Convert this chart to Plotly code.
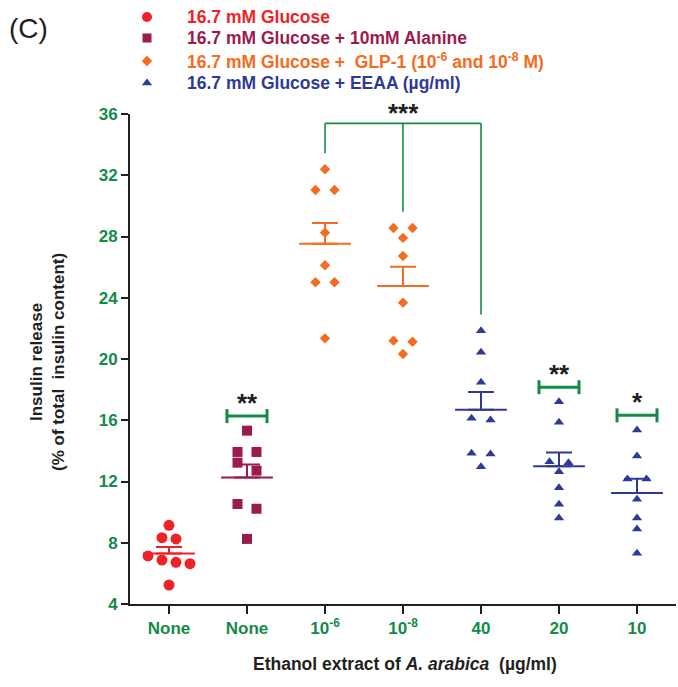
import numpy as np
import plotly.graph_objects as go

# ---------------- data ----------------
tick_labels = ["None", "None", "10<sup>-6</sup>", "10<sup>-8</sup>", "40", "20", "10"]

glucose = [9.14, 8.33, 8.25, 7.14, 6.87, 6.72, 6.63, 5.24]
glucose_alanine = [15.32, 13.93, 13.93, 13.23, 12.71, 10.53, 10.22, 8.25]
glp1_1e6 = [32.39, 31.04, 31.04, 28.25, 26.12, 25.01, 25.01, 21.35]
glp1_1e8 = [28.56, 28.56, 27.91, 26.73, 23.68, 21.20, 21.13, 20.33]
eeaa_40 = [21.85, 20.44, 18.48, 16.13, 16.02, 13.84, 13.80, 12.97]
eeaa_20 = [17.21, 15.87, 13.29, 13.23, 12.64, 11.60, 10.51, 9.62]
eeaa_10 = [15.37, 13.67, 12.16, 12.16, 10.84, 9.62, 8.90, 7.31]

series_names = [
    "16.7 mM Glucose",
    "16.7 mM Glucose + 10mM Alanine",
    "16.7 mM Glucose + \u00a0GLP-1 (10<sup>-6</sup> and 10<sup>-8</sup> M)",
    "16.7 mM Glucose + EEAA (\u00b5g/ml)",
]
group_values = [glucose, glucose_alanine, glp1_1e6, glp1_1e8, eeaa_40, eeaa_20, eeaa_10]
group_series = [0, 1, 2, 2, 3, 3, 3]

single_sig = {1: "**", 5: "**", 6: "*"}
bracket_sig = "***"

# ---------------- style ----------------
colors = ["#ED2327", "#9B1B4F", "#F36C21", "#2E3A94"]
symbols = ["circle", "square", "diamond", "triangle-up"]
marker_sizes = [11, 10, 8, 9]
legend_marker_sizes = [10, 9, 8, 9]
swarm_step_px = [14, 19, 19, 19]
GREEN = "#148A48"
DARK = "#231F20"
FONT = "Liberation Sans, Arial, Helvetica, sans-serif"

W, H = 678, 687
PL, PR, PT, PB = 130, 676, 114, 604   # main plot frame in pixels
TOP = 0                                # plot area reaches the top (legend overlay)
X_RANGE = [-0.5, 6.5]
Y_RANGE = [4, 36]
PX_X = (PR - PL) / (X_RANGE[1] - X_RANGE[0])
PX_Y = (PB - PT) / (Y_RANGE[1] - Y_RANGE[0])


def paper_x(px):
    return (px - PL) / (PR - PL)


def paper_y(py):
    return (PB - py) / (PB - TOP)


def swarm_offsets(values, step_px, thresh=0.6):
    """Rows of near-equal values are spread horizontally, centred."""
    n = len(values)
    order = sorted(range(n), key=lambda i: -values[i])
    rows, cur = [], []
    for i in order:
        if cur and values[cur[0]] - values[i] <= thresh:
            cur.append(i)
        else:
            if cur:
                rows.append(cur)
            cur = [i]
    rows.append(cur)
    off = [0.0] * n
    for row in rows:
        k = len(row)
        for j, i in enumerate(row):
            off[i] = (j - (k - 1) / 2) * step_px / PX_X
    return off


fig = go.Figure()

for gi, vals in enumerate(group_values):
    s = group_series[gi]
    offs = swarm_offsets(vals, swarm_step_px[s])
    fig.add_trace(go.Scatter(
        x=[gi + o for o in offs], y=vals, mode="markers",
        marker=dict(symbol=symbols[s], size=marker_sizes[s], color=colors[s],
                    line=dict(width=0)),
        showlegend=False, hoverinfo="y"))

for gi, vals in enumerate(group_values):
    s = group_series[gi]
    arr = np.array(vals)
    mean = arr.mean()
    sem = arr.std(ddof=1) / np.sqrt(len(arr))
    fig.add_trace(go.Scatter(
        x=[gi], y=[mean], mode="markers",
        marker=dict(symbol="line-ew", size=37, color=colors[s],
                    line=dict(width=2, color=colors[s])),
        error_y=dict(type="data", symmetric=False, array=[sem], arrayminus=[0],
                     color=colors[s], thickness=2, width=13),
        showlegend=False, hoverinfo="y"))

shapes = []
annotations = []

half_w = 20 / PX_X
cap_h = 7 / PX_Y
for gi, stars in single_sig.items():
    yb = max(group_values[gi]) + 0.95
    shapes.append(dict(type="line", xref="x", yref="y", x0=gi - half_w, x1=gi + half_w,
                       y0=yb, y1=yb, line=dict(color=GREEN, width=3)))
    for xe in (gi - half_w, gi + half_w):
        shapes.append(dict(type="line", xref="x", yref="y", x0=xe, x1=xe,
                           y0=yb - cap_h, y1=yb + cap_h, line=dict(color=GREEN, width=3)))
    annotations.append(dict(x=gi, y=yb, xref="x", yref="y", text=f"<b>{stars}</b>",
                            showarrow=False, yanchor="bottom", yshift=-4,
                            font=dict(family=FONT, size=26, color=DARK)))

legs = [2, 3, 4]
top = max(group_values[2]) + 3.0
for gi in legs:
    shapes.append(dict(type="line", xref="x", yref="y", x0=gi, x1=gi,
                       y0=max(group_values[gi]) + 1.05, y1=top,
                       line=dict(color=GREEN, width=1.6)))
shapes.append(dict(type="line", xref="x", yref="y", x0=legs[0], x1=legs[-1],
                   y0=top, y1=top, line=dict(color=GREEN, width=1.6)))
annotations.append(dict(x=legs[1], y=top, xref="x", yref="y", text=f"<b>{bracket_sig}</b>",
                        showarrow=False, yanchor="bottom", yshift=-7,
                        font=dict(family=FONT, size=26, color=DARK)))

# legend: markers on a separate, hidden, pixel-scaled subplot; coloured texts as annotations
legend_marker_px = 147
legend_text_px = 185
legend_rows_py = [17, 38, 61, 83]
for s in range(4):
    fig.add_trace(go.Scatter(
        x=[legend_marker_px], y=[legend_rows_py[s]], xaxis="x2", yaxis="y2",
        mode="markers",
        marker=dict(symbol=symbols[s], size=legend_marker_sizes[s], color=colors[s]),
        cliponaxis=False, showlegend=False, hoverinfo="skip"))
    annotations.append(dict(x=paper_x(legend_text_px), y=paper_y(legend_rows_py[s]),
                            xref="paper", yref="paper", text=f"<b>{series_names[s]}</b>",
                            showarrow=False, xanchor="left", yanchor="middle",
                            font=dict(family=FONT, size=17.5, color=colors[s])))

annotations.append(dict(x=paper_x(7), y=paper_y(28), xref="paper", yref="paper", text="(C)",
                        showarrow=False, xanchor="left", yanchor="middle",
                        font=dict(family=FONT, size=28, color=DARK)))

annotations.append(dict(x=paper_x(47), y=paper_y(362), xref="paper", yref="paper",
                        text="<b>Insulin release</b><br><b>(% of total \u00a0insulin content)</b>",
                        textangle=-90, showarrow=False, xanchor="center", yanchor="middle",
                        font=dict(family=FONT, size=17, color=DARK)))
annotations.append(dict(x=paper_x(405), y=paper_y(664), xref="paper", yref="paper",
                        text="<b>Ethanol extract of <i>A. arabica</i> \u00a0(\u00b5g/ml)</b>",
                        showarrow=False, xanchor="center", yanchor="middle",
                        font=dict(family=FONT, size=17.5, color=DARK)))

fig.update_layout(
    width=W, height=H,
    margin=dict(l=PL, r=W - PR, t=TOP, b=H - PB, pad=0, autoexpand=False),
    paper_bgcolor="white", plot_bgcolor="rgba(0,0,0,0)",
    showlegend=False,
    shapes=shapes, annotations=annotations,
    font=dict(family=FONT),
    xaxis=dict(
        range=X_RANGE, domain=[0, 1], anchor="y", automargin=False,
        tickmode="array", tickvals=list(range(len(tick_labels))),
        ticktext=tick_labels, showline=True, linecolor=DARK, linewidth=2,
        ticks="outside", ticklen=8, tickwidth=2, tickcolor=DARK,
        showgrid=False, zeroline=False,
        tickfont=dict(family=FONT, size=17, color=GREEN, weight="bold"),
    ),
    yaxis=dict(
        range=Y_RANGE, domain=[0, (PB - PT) / (PB - TOP)], anchor="x", automargin=False,
        tickmode="linear", tick0=4, dtick=4,
        showline=True, linecolor=DARK, linewidth=2,
        ticks="outside", ticklen=7, tickwidth=2, tickcolor=DARK,
        showgrid=False, zeroline=False,
        tickfont=dict(family=FONT, size=17, color=GREEN, weight="bold"),
    ),
    xaxis2=dict(range=[PL, PR], domain=[0, 1], anchor="y2", visible=False,
                fixedrange=True, automargin=False),
    yaxis2=dict(range=[PB, TOP], domain=[0, 1], anchor="x2", visible=False,
                fixedrange=True, automargin=False),
)

fig.write_html("out.html")
